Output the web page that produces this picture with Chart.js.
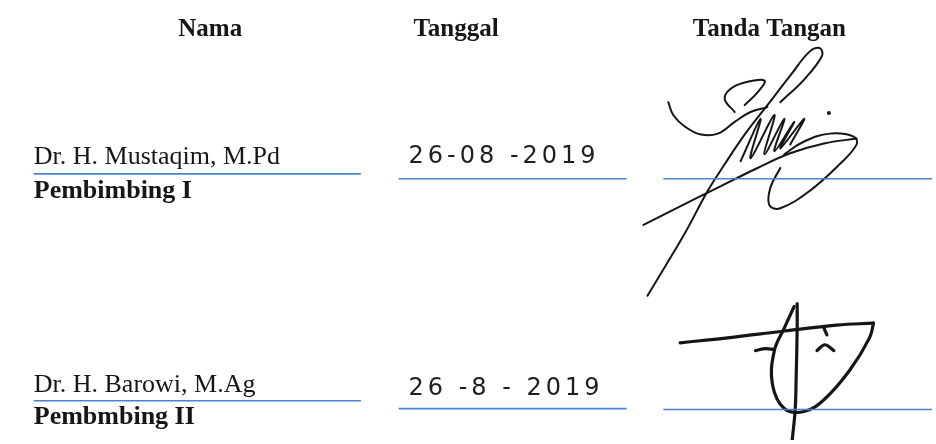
<!DOCTYPE html>
<html lang="id">
<head>
  <meta charset="UTF-8" />
  <title>Lembar Persetujuan</title>
  <script src="https://cdn.jsdelivr.net/npm/chart.js@4.4.1/dist/chart.umd.min.js"></script>
  <style>
    body {
      margin: 0;
      background-color: #fff;
    }
    #sheet {
      display: block;
    }
  </style>
</head>
<body>
  <canvas id="sheet" width="936" height="444"></canvas>

  <script>
    // isi lembar
    const headers = ['Nama', 'Tanggal', 'Tanda Tangan'];
    const names = ['Dr. H. Mustaqim, M.Pd', 'Dr. H. Barowi, M.Ag'];
    const roles = ['Pembimbing I', 'Pembmbing II'];
    const dates = ['26-08 -2019', '26 -8 - 2019'];

    // goresan tanda tangan, satu array per goresan
    const sign1Strokes = [
      [[783,100],[807,77],[825,53],[823,45],[813,48],[793,73],[770,103],[747,133],[727,163],[710,190],[687,233],[667,267],[649,297]],
      [[670,100],[675,113],[687,125],[703,133],[720,132],[737,120],[753,110],[770,105]],
      [[737,110],[727,97],[732,87],[747,80],[767,78],[760,90],[747,103]],
      [[743,160],[763,117],[753,157],[777,113],[767,153],[787,117],[777,150],[797,120],[783,147],[807,117],[793,143]],
      [[787,153],[807,140],[833,132],[857,135],[860,143],[843,163],[813,190],[783,208],[772,205],[773,187],[783,167]],
      [[645,225],[680,207],[720,187],[760,167],[793,152],[827,142],[860,137]]
    ];
    const sign1Dots = [[832,111]];

    const sign2Strokes = [
      [[682,345],[730,340],[787,333],[840,327],[877,325]],
      [[877,325],[873,340],[853,373],[827,403],[807,415],[787,412],[775,387],[777,353],[787,330],[797,308]],
      [[800,305],[800,330],[799,380],[798,413],[795,444]],
      [[758,353],[768,351],[777,352]],
      [[827,330],[830,337]],
      [[820,353],[828,347],[837,353]]
    ];

    // tata letak
    const layout = {
      headerY: 33,
      headerX: [208, 456, 772],
      nameX: 30,
      dateX: 408,
      rowY: [163, 395],
      roleY: [198, 428],
      dateY: [162, 398],
      lineY: [[173, 178, 178], [404, 412, 413]],
      lineSpans: [[30, 360], [398, 628], [665, 936]]
    };

    const lineDatasets = [];
    layout.lineY.forEach(row => {
      row.forEach((y, i) => {
        const span = layout.lineSpans[i];
        lineDatasets.push({
          data: [{ x: span[0], y: y }, { x: span[1], y: y }],
          showLine: true,
          borderColor: '#4a84cc',
          borderWidth: 1.6,
          pointRadius: 0,
          tension: 0
        });
      });
    });

    function strokeSet(strokes, width) {
      return strokes.map(s => ({
        data: s.map(p => ({ x: p[0], y: p[1] })),
        showLine: true,
        borderColor: '#151515',
        borderWidth: width,
        pointRadius: 0,
        tension: 0.4,
        borderCapStyle: 'round',
        borderJoinStyle: 'round'
      }));
    }

    const textPlugin = {
      id: 'sheetText',
      afterDatasetsDraw(chart) {
        const ctx = chart.ctx;
        const sx = chart.scales.x, sy = chart.scales.y;
        const px = v => sx.getPixelForValue(v);
        const py = v => sy.getPixelForValue(v);
        ctx.save();
        ctx.fillStyle = '#161616';
        ctx.textBaseline = 'alphabetic';

        ctx.font = 'bold 25px "Liberation Serif"';
        ctx.textAlign = 'center';
        headers.forEach((h, i) => ctx.fillText(h, px(layout.headerX[i]), py(layout.headerY)));

        ctx.textAlign = 'left';
        names.forEach((n, i) => {
          ctx.font = '26px "Liberation Serif"';
          ctx.fillText(n, px(layout.nameX), py(layout.rowY[i]));
          ctx.font = 'bold 26px "Liberation Serif"';
          ctx.fillText(roles[i], px(layout.nameX), py(layout.roleY[i]));
        });

        ctx.font = '24px "DejaVu Sans"';
        ctx.letterSpacing = '4px';
        ctx.fillStyle = '#1e1e1e';
        dates.forEach((d, i) => ctx.fillText(d, px(layout.dateX), py(layout.dateY[i])));
        ctx.restore();
      }
    };

    new Chart(document.getElementById('sheet'), {
      type: 'scatter',
      data: {
        datasets: [
          ...lineDatasets,
          ...strokeSet(sign1Strokes, 2),
          ...strokeSet(sign2Strokes, 3.2),
          {
            data: sign1Dots.map(p => ({ x: p[0], y: p[1] })),
            pointRadius: 2,
            pointBackgroundColor: '#151515',
            pointBorderWidth: 0
          }
        ]
      },
      options: {
        responsive: false,
        animation: false,
        layout: { padding: 0 },
        scales: {
          x: { type: 'linear', min: 0, max: 936, display: false },
          y: { type: 'linear', min: 0, max: 444, reverse: true, display: false }
        },
        plugins: {
          legend: { display: false },
          tooltip: { enabled: false }
        }
      },
      plugins: [textPlugin]
    });
  </script>
</body>
</html>
